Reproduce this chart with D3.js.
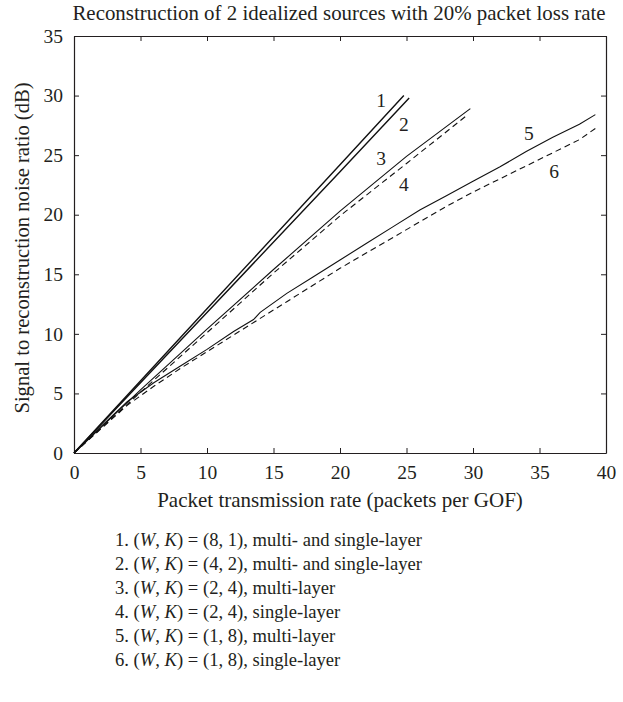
<!DOCTYPE html>
<html>
<head>
<meta charset="utf-8">
<script src="https://d3js.org/d3.v7.min.js"></script>
<style>
  body { margin: 0; background: #fff; }
  text { font-family: "Liberation Serif", "DejaVu Serif", serif; fill: #231f20; }
</style>
</head>
<body>
<svg id="chart" width="623" height="702"></svg>
<script>
// curve data (x = packets per GOF, y = SNR dB)
const line1 = [[0, 0], [10, 12.1], [20, 24.2], [24.8, 30.0]];
const line2 = [[0, 0], [10, 11.8], [20, 23.6], [25.2, 29.8]];
const line3 = [[0, 0], [5, 5.3], [10, 10.4], [15, 15.4], [20, 20.3], [25, 24.9], [29.8, 28.9]];
const line4 = [[0, 0], [5, 5.1], [10, 10.1], [15, 15.1], [20, 19.9], [25, 24.3], [29.5, 28.3]];
const line5 = [[0, 0], [2, 2.2], [4, 4.3], [6, 5.9], [8, 7.3], [10, 8.7], [12, 10.2], [13.5, 11.2], [14, 11.8],
  [16, 13.4], [18, 14.8], [20, 16.2], [22, 17.6], [24, 19.0], [26, 20.4], [28, 21.6], [30, 22.8],
  [32, 24.0], [34, 25.3], [36, 26.5], [38, 27.6], [39.2, 28.4]];
const line6 = [[0, 0], [2, 2.0], [4, 4.0], [6, 5.6], [8, 7.1], [10, 8.5], [12, 9.9], [14, 11.3], [16, 12.7],
  [18, 14.1], [20, 15.5], [22, 16.8], [24, 18.1], [26, 19.4], [28, 20.7], [30, 21.9], [32, 23.0],
  [34, 24.1], [36, 25.2], [38, 26.3], [39.4, 27.4]];

const curveNames = ["1", "2", "3", "4", "5", "6"];
const curveLabelPos = [[23.1, 29.6], [24.8, 27.6], [23.1, 24.7], [24.8, 22.5], [34.2, 26.8], [36.1, 23.6]];
const curveDashed = [false, false, false, true, false, true];

const xTicks = [0, 5, 10, 15, 20, 25, 30, 35, 40];
const yTicks = [0, 5, 10, 15, 20, 25, 30, 35];

const legendWK = ["(8, 1)", "(4, 2)", "(2, 4)", "(2, 4)", "(1, 8)", "(1, 8)"];
const legendKind = ["multi- and single-layer", "multi- and single-layer", "multi-layer",
  "single-layer", "multi-layer", "single-layer"];

const titleText = "Reconstruction of 2 idealized sources with 20% packet loss rate";
const xLabel = "Packet transmission rate (packets per GOF)";
const yLabel = "Signal to reconstruction noise ratio (dB)";

const margin = {top: 36, left: 74},
  width = 532, height = 417;

const svg = d3.select("#chart");
const g = svg.append("g").attr("transform", "translate(" + margin.left + "," + margin.top + ")");

const x = d3.scaleLinear().domain([0, 40]).range([0, width]);
const y = d3.scaleLinear().domain([0, 35]).range([height, 0]);

//Axes with inward ticks on all four sides
g.append("g").attr("transform", "translate(0," + height + ")")
  .call(d3.axisBottom(x).tickValues(xTicks).tickSizeInner(-5).tickSizeOuter(0).tickPadding(12));
g.append("g")
  .call(d3.axisTop(x).tickValues(xTicks).tickSizeInner(-5).tickSizeOuter(0).tickFormat(""));
g.append("g")
  .call(d3.axisLeft(y).tickValues(yTicks).tickSizeInner(-5).tickSizeOuter(0).tickPadding(11));
g.append("g").attr("transform", "translate(" + width + ",0)")
  .call(d3.axisRight(y).tickValues(yTicks).tickSizeInner(-5).tickSizeOuter(0).tickFormat(""));

g.selectAll(".domain").attr("stroke", "#231f20").attr("stroke-width", 1.2);
g.selectAll(".tick line").attr("stroke", "#231f20").attr("stroke-width", 1);
g.selectAll(".tick text").attr("font-size", 19.5).attr("fill", "#231f20")
  .attr("font-family", "Liberation Serif, DejaVu Serif, serif");

//Curves
const lineGen = d3.line().x(d => x(d[0])).y(d => y(d[1]));
[line1, line2, line3, line4, line5, line6].forEach(function(data, i) {
  g.append("path")
    .datum(data)
    .attr("fill", "none")
    .attr("stroke", "#111")
    .attr("stroke-width", i < 2 ? 1.4 : 1.1)
    .attr("stroke-dasharray", curveDashed[i] ? "6,4" : null)
    .attr("d", lineGen);
  g.append("text")
    .attr("x", x(curveLabelPos[i][0]))
    .attr("y", y(curveLabelPos[i][1]))
    .attr("text-anchor", "middle")
    .attr("dominant-baseline", "central")
    .attr("font-size", 19.5)
    .text(curveNames[i]);
});

//Titles
svg.append("text")
  .attr("x", margin.left + width / 2 - 1)
  .attr("y", 20)
  .attr("text-anchor", "middle")
  .attr("font-size", 20.9)
  .text(titleText);

svg.append("text")
  .attr("x", 340)
  .attr("y", 507)
  .attr("text-anchor", "middle")
  .attr("font-size", 21)
  .text(xLabel);

svg.append("text")
  .attr("transform", "translate(29,248) rotate(-90)")
  .attr("text-anchor", "middle")
  .attr("font-size", 20.6)
  .text(yLabel);

//Legend list
const legend = svg.append("g").attr("transform", "translate(115,546)");
legendWK.forEach(function(wk, i) {
  const t = legend.append("text")
    .attr("y", i * 24)
    .attr("font-size", 18.6);
  t.append("tspan").text((i + 1) + ". (");
  t.append("tspan").attr("font-style", "italic").text("W");
  t.append("tspan").text(", ");
  t.append("tspan").attr("font-style", "italic").text("K");
  t.append("tspan").text(") = " + wk + ", " + legendKind[i]);
});
</script>
</body>
</html>
